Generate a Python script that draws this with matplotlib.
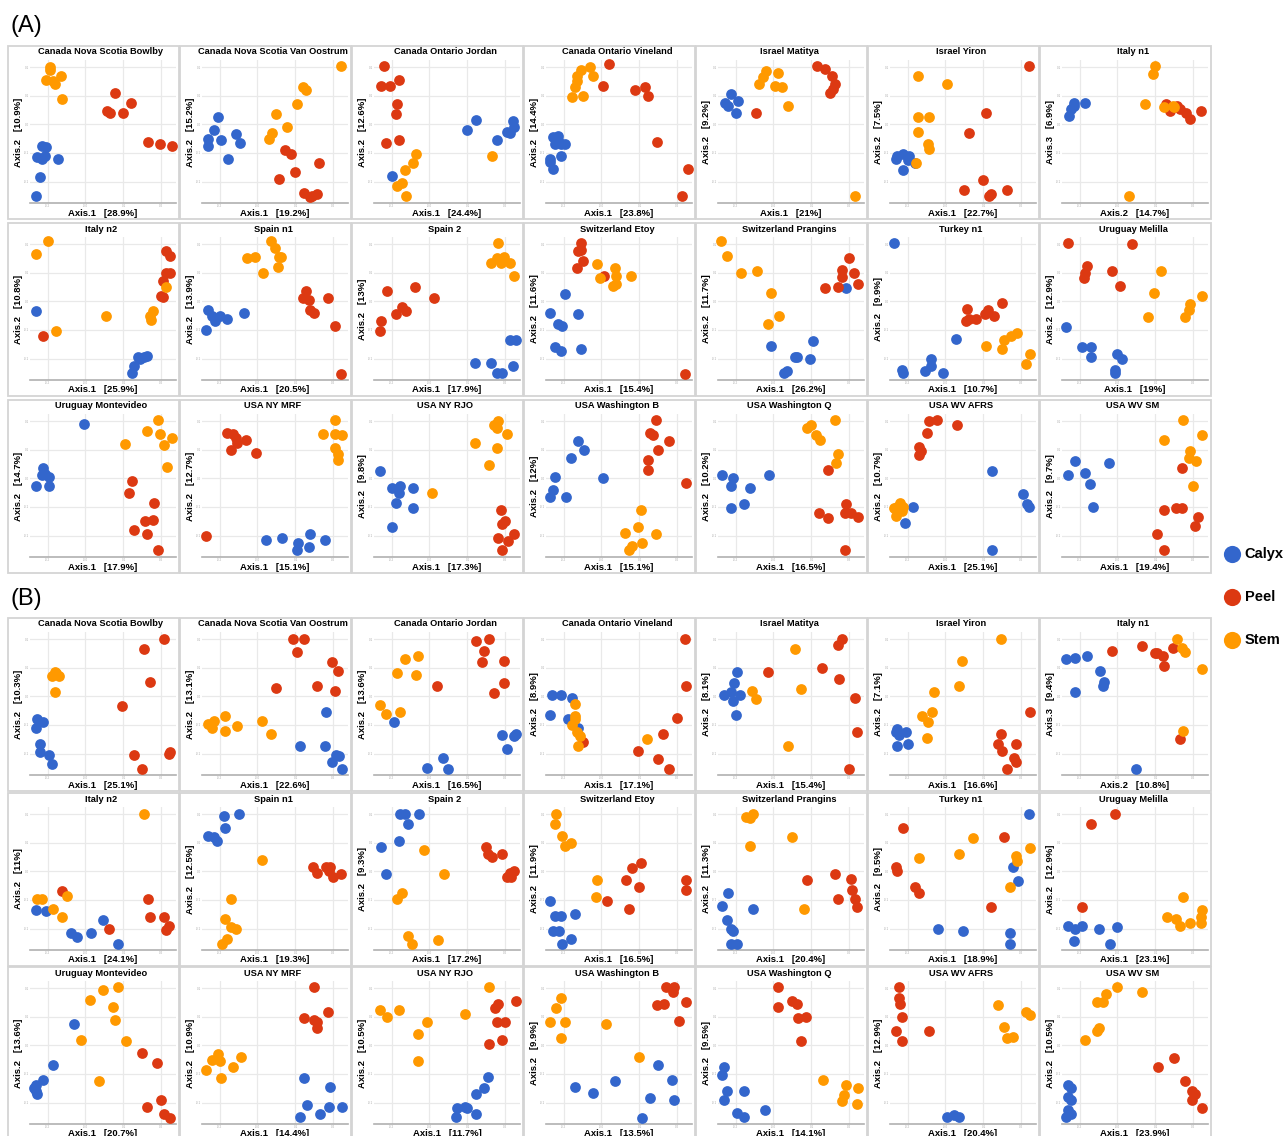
import matplotlib.pyplot as plt
from matplotlib.patches import Rectangle
from matplotlib.ticker import FuncFormatter

plt.rcParams['font.family'] = ['Liberation Sans', 'DejaVu Sans']

# panel titles, axis labels (section A = first 21, section B = last 21)
sites = ['Canada Nova Scotia Bowlby', 'Canada Nova Scotia Van Oostrum', 'Canada Ontario Jordan',
         'Canada Ontario Vineland', 'Israel Matitya', 'Israel Yiron', 'Italy n1',
         'Italy n2', 'Spain n1', 'Spain 2', 'Switzerland Etoy', 'Switzerland Prangins',
         'Turkey n1', 'Uruguay Melilla',
         'Uruguay Montevideo', 'USA NY MRF', 'USA NY RJO', 'USA Washington B',
         'USA Washington Q', 'USA WV AFRS', 'USA WV SM']
titles = sites + sites

x_pct = ['28.9', '19.2', '24.4', '23.8', '21', '22.7', '14.7',
         '25.9', '20.5', '17.9', '15.4', '26.2', '10.7', '19',
         '17.9', '15.1', '17.3', '15.1', '16.5', '25.1', '19.4',
         '25.1', '22.6', '16.5', '17.1', '15.4', '16.6', '10.8',
         '24.1', '19.3', '17.2', '16.5', '20.4', '18.9', '23.1',
         '20.7', '14.4', '11.7', '13.5', '14.1', '20.4', '23.9']
y_pct = ['10.9', '15.2', '12.6', '14.4', '9.2', '7.5', '6.9',
         '10.8', '13.9', '13', '11.6', '11.7', '9.9', '12.9',
         '14.7', '12.7', '9.8', '12', '10.2', '10.7', '9.7',
         '10.3', '13.1', '13.6', '8.9', '8.1', '7.1', '9.4',
         '11', '12.5', '9.3', '11.9', '11.3', '9.5', '12.9',
         '13.6', '10.9', '10.5', '9.9', '9.5', '12.9', '10.5']
x_axis = ['Axis.1'] * 42
y_axis = ['Axis.2'] * 42
x_axis[6] = x_axis[27] = 'Axis.2'
y_axis[6] = y_axis[27] = 'Axis.3'

# point positions, percent of each panel's plotting range
calyx = [
    [(8,40),(11,39),(5,32),(8,31),(10,33),(19,31),(7,18),(4,5)],
    [(11,60),(8,51),(4,45),(4,40),(13,44),(23,48),(26,42),(18,31)],
    [(70,58),(64,51),(84,44),(91,50),(93,49),(95,57),(96,53),(12,19)],
    [(5,46),(8,44),(6,41),(8,47),(10,41),(13,41),(10,33),(3,31),(5,24),(3,29)],
    [(9,76),(5,70),(7,68),(14,71),(12,63)],
    [(5,33),(9,34),(13,33),(17,28),(9,23),(4,31),(12,30)],
    [(5,61),(6,66),(8,70),(8,68),(16,70)],
    [(4,48),(80,17),(74,16),(71,10),(70,5),(75,15),(78,16)],
    [(4,49),(7,45),(9,41),(3,35),(17,43),(29,47),(12,45)],
    [(93,28),(97,28),(69,12),(80,12),(84,5),(88,5),(95,10)],
    [(13,60),(3,47),(22,46),(8,39),(11,38),(6,23),(10,20),(24,22)],
    [(88,64),(36,24),(65,27),(54,16),(63,15),(53,16),(45,5),(47,6)],
    [(3,96),(45,29),(28,15),(28,10),(8,7),(9,5),(24,6),(36,5)],
    [(3,37),(14,23),(20,23),(20,16),(38,18),(41,15),(36,7),(36,5)],
    [(37,93),(9,62),(10,58),(13,56),(4,50),(13,50),(8,57)],
    [(44,12),(55,13),(66,10),(65,5),(73,7),(74,16),(84,12)],
    [(4,60),(12,48),(18,50),(17,45),(27,48),(15,38),(27,34),(12,21)],
    [(22,81),(26,75),(17,69),(6,56),(39,55),(5,47),(3,42),(14,42)],
    [(3,57),(10,55),(9,50),(35,57),(22,48),(18,37),(9,34)],
    [(70,60),(91,44),(94,37),(95,35),(16,35),(10,24),(70,5)],
    [(9,67),(32,66),(4,57),(16,59),(19,51),(21,35)],
    [(4,33),(5,39),(9,37),(7,22),(7,16),(13,14),(15,8)],
    [(85,44),(67,20),(84,20),(92,14),(89,9),(96,4),(94,13)],
    [(14,37),(36,5),(47,12),(51,4),(88,28),(96,27),(91,18),(97,29)],
    [(4,56),(10,56),(18,54),(3,42),(15,39),(22,33)],
    [(13,72),(11,64),(4,56),(9,58),(15,56),(10,52),(12,42)],
    [(5,32),(11,30),(6,28),(5,20),(12,22),(4,30)],
    [(3,81),(9,82),(17,83),(26,73),(28,62),(29,65),(9,58),(51,4)],
    [(4,28),(11,27),(28,12),(32,9),(42,12),(50,21),(60,4)],
    [(15,94),(25,95),(16,85),(4,80),(8,79),(10,76)],
    [(18,95),(21,95),(31,95),(23,88),(17,76),(5,72),(8,53)],
    [(3,34),(6,24),(10,24),(20,25),(5,13),(9,13),(17,8),(11,4)],
    [(7,40),(3,31),(24,29),(6,21),(9,15),(10,13),(9,4),(13,4)],
    [(95,95),(84,58),(88,48),(33,15),(50,13),(82,12),(82,4)],
    [(4,17),(9,15),(14,17),(25,15),(38,16),(8,6),(33,4)],
    [(30,70),(16,41),(9,31),(3,25),(4,23),(5,21),(4,27)],
    [(70,32),(88,26),(72,13),(87,12),(96,12),(81,7),(67,5)],
    [(78,33),(75,25),(70,21),(62,12),(57,11),(56,5),(70,7),(64,11)],
    [(20,26),(32,22),(47,30),(77,41),(86,31),(71,18),(88,17),(66,4)],
    [(4,40),(3,34),(6,23),(18,23),(4,17),(13,8),(18,5),(32,10)],
    [(39,5),(47,5),(44,6)],
    [(4,27),(6,25),(4,19),(6,17),(4,10),(6,7),(3,5)],
]
peel = [
    [(58,77),(53,64),(55,63),(64,63),(69,70),(81,43),(89,41),(97,40)],
    [(57,37),(61,34),(80,28),(64,22),(53,17),(70,7),(75,5),(79,6),(74,4)],
    [(7,96),(5,82),(11,82),(17,86),(16,69),(15,62),(8,42),(17,44)],
    [(43,97),(39,82),(61,79),(68,81),(70,75),(76,43),(97,24),(93,5)],
    [(26,63),(68,96),(73,94),(78,89),(80,83),(79,80),(77,77)],
    [(95,96),(66,63),(54,49),(64,16),(51,9),(69,6),(80,9),(68,5)],
    [(71,69),(74,64),(81,66),(85,63),(88,59),(95,64),(79,68)],
    [(93,90),(96,87),(93,75),(96,75),(91,69),(90,59),(91,58),(9,31)],
    [(71,62),(69,57),(73,56),(86,57),(74,49),(77,47),(91,38),(95,4)],
    [(9,62),(28,65),(41,57),(19,51),(22,48),(15,46),(5,41),(4,34)],
    [(24,96),(24,91),(22,90),(25,83),(21,78),(40,73),(95,4)],
    [(90,85),(85,77),(93,75),(85,72),(96,67),(82,65),(73,64)],
    [(53,50),(77,54),(67,49),(71,45),(65,46),(59,43),(52,41),(54,43)],
    [(4,96),(48,95),(17,80),(16,75),(15,71),(34,76),(40,66)],
    [(70,53),(68,45),(85,38),(79,25),(84,26),(71,19),(80,16),(88,5)],
    [(17,87),(21,86),(23,83),(30,82),(20,75),(37,73),(24,80),(3,15)],
    [(87,33),(90,25),(88,23),(96,16),(85,13),(92,11),(88,5)],
    [(75,96),(71,87),(73,85),(84,81),(77,75),(70,68),(70,61),(96,52)],
    [(75,61),(88,37),(87,31),(69,31),(75,27),(96,28),(91,31),(87,5)],
    [(27,95),(32,96),(46,92),(25,87),(20,77),(20,71),(21,74)],
    [(82,62),(70,33),(78,34),(82,34),(93,28),(91,22),(65,16),(70,5)],
    [(92,95),(78,88),(82,65),(63,48),(71,14),(77,4),(95,15),(96,16)],
    [(62,95),(70,95),(65,86),(89,79),(93,73),(91,59),(79,62),(51,61)],
    [(70,94),(79,95),(75,87),(74,79),(89,80),(89,64),(82,57),(43,62)],
    [(25,23),(95,95),(96,62),(90,40),(80,29),(63,17),(77,11),(84,4)],
    [(34,72),(85,95),(82,91),(71,75),(83,67),(94,54),(95,30),(90,4)],
    [(96,44),(76,29),(74,22),(86,22),(77,17),(85,12),(86,9),(80,4)],
    [(34,87),(55,90),(64,85),(69,83),(70,76),(76,89),(65,85),(81,25)],
    [(22,41),(81,36),(82,23),(92,23),(95,17),(93,14),(54,15)],
    [(76,58),(85,58),(88,58),(79,54),(95,53),(90,51),(87,55)],
    [(77,72),(78,67),(81,65),(88,67),(93,54),(96,55),(91,51),(94,51)],
    [(65,61),(59,57),(55,49),(64,44),(42,34),(57,29),(96,49),(96,42)],
    [(80,53),(61,49),(91,50),(92,42),(94,36),(82,36),(95,30)],
    [(9,85),(78,79),(4,58),(5,55),(17,44),(20,40),(69,30)],
    [(36,95),(20,88),(14,30)],
    [(77,50),(87,43),(90,17),(80,12),(92,7),(96,4)],
    [(77,96),(70,74),(77,73),(79,71),(79,67),(86,78)],
    [(97,86),(85,84),(83,81),(84,71),(90,71),(79,56),(88,59)],
    [(82,96),(88,96),(87,92),(81,84),(76,83),(96,85),(91,72)],
    [(41,96),(41,82),(51,86),(54,84),(55,74),(60,75),(57,58)],
    [(6,96),(6,88),(7,84),(8,75),(4,65),(8,58),(27,65)],
    [(77,46),(66,40),(84,30),(89,23),(91,21),(89,17),(96,11)],
]
stem = [
    [(14,95),(14,93),(21,89),(11,86),(16,85),(17,83),(22,73)],
    [(95,96),(69,81),(71,79),(65,69),(51,62),(58,53),(48,49),(46,45)],
    [(29,34),(27,28),(21,23),(19,14),(16,12),(22,5),(81,33)],
    [(30,95),(24,93),(21,89),(32,89),(21,85),(20,81),(18,74),(25,75)],
    [(33,92),(31,88),(28,83),(41,91),(39,82),(44,81),(48,68),(94,5)],
    [(19,89),(39,83),(19,60),(27,60),(19,50),(26,41),(27,38),(18,28)],
    [(64,96),(62,90),(57,69),(70,67),(76,68),(77,67),(46,5)],
    [(12,97),(4,88),(18,34),(52,45),(84,48),(82,45),(83,42),(93,65)],
    [(47,97),(36,86),(31,85),(50,92),(53,86),(54,86),(52,79),(42,75)],
    [(85,96),(80,82),(84,85),(89,86),(93,82),(96,73),(87,82)],
    [(35,81),(47,78),(37,71),(48,73),(46,66),(58,73),(48,67)],
    [(2,97),(6,87),(16,75),(27,76),(36,61),(42,45),(34,39)],
    [(87,33),(83,31),(78,28),(66,24),(77,22),(96,18),(93,11)],
    [(68,76),(63,61),(96,59),(88,53),(87,49),(84,44),(59,44)],
    [(88,96),(80,88),(89,86),(97,83),(92,78),(65,79),(94,63)],
    [(91,96),(83,86),(91,86),(96,85),(91,76),(93,72),(93,68)],
    [(82,92),(85,95),(84,90),(91,86),(69,80),(84,76),(79,64),(40,45)],
    [(65,33),(63,21),(75,16),(54,17),(66,10),(59,8),(57,5)],
    [(80,96),(61,90),(64,92),(67,85),(70,82),(82,72),(81,66)],
    [(7,38),(5,35),(8,32),(4,29),(9,35),(3,34)],
    [(83,96),(96,85),(70,82),(88,74),(92,67),(87,69),(90,50)],
    [(17,72),(15,69),(20,69),(17,58),(18,71)],
    [(4,36),(8,38),(7,33),(16,41),(16,31),(24,34),(41,38),(47,29)],
    [(21,81),(30,83),(16,71),(29,70),(4,49),(8,43),(18,44)],
    [(20,50),(20,41),(18,35),(21,30),(23,27),(22,20),(20,39),(69,25)],
    [(53,88),(23,59),(26,53),(57,60),(48,20)],
    [(76,95),(49,80),(47,62),(30,58),(29,44),(22,41),(26,37),(25,26)],
    [(79,95),(82,89),(84,86),(96,74),(83,31)],
    [(78,95),(5,36),(8,36),(25,38),(16,29),(22,23)],
    [(41,63),(20,36),(16,22),(20,16),(23,15),(17,8),(14,4)],
    [(34,70),(48,53),(19,40),(16,36),(23,10),(26,4),(44,7)],
    [(7,95),(6,88),(11,80),(17,75),(13,73),(35,49),(34,37)],
    [(19,93),(24,95),(22,92),(51,79),(22,73),(59,29)],
    [(57,78),(47,67),(20,64),(86,66),(87,62),(96,71),(82,44)],
    [(83,37),(72,23),(78,22),(81,17),(88,19),(96,28),(95,23),(95,19)],
    [(60,96),(50,94),(41,87),(57,82),(58,73),(35,59),(66,58),(47,30)],
    [(3,38),(7,45),(11,49),(12,44),(21,40),(27,47),(13,32)],
    [(79,96),(4,80),(9,75),(17,80),(36,71),(62,77),(30,63),(30,44)],
    [(10,88),(7,81),(3,71),(13,71),(41,70),(10,60),(64,47)],
    [(72,31),(88,27),(96,25),(86,20),(85,16),(95,14)],
    [(74,83),(93,78),(96,76),(78,68),(80,60),(84,61)],
    [(38,96),(55,92),(30,91),(24,85),(28,85),(25,67),(24,65),(16,59)],
]

groups = ['Calyx', 'Peel', 'Stem']
colors = ['#3366CC', '#DC3912', '#FF9900']

W, H = 1285, 1136
fig = plt.figure(figsize=(W / 100, H / 100), dpi=100)

col_left = [8 + 172 * c for c in range(7)]
row_top = [46, 223, 400, 618, 793, 967]
pw, ph = 171, 173

fmt_x = FuncFormatter(lambda v, p: f'{(v - 50) / 250:.1f}')
fmt_y = FuncFormatter(lambda v, p: f'{(v - 50) / 300:.1f}')

handles = []
for i in range(42):
    r, c = divmod(i, 7)
    L, T = col_left[c], row_top[r]
    fig.patches.append(Rectangle((L / W, 1 - (T + ph) / H), pw / W, ph / H,
                                 transform=fig.transFigure, fill=False,
                                 edgecolor='#d4d4d4', lw=1.3))
    ax = fig.add_axes([(L + 22) / W, 1 - (T + 157) / H, 146 / W, 143 / H])
    for pts, col, g in zip([calyx[i], peel[i], stem[i]], colors, groups):
        xs = [p[0] for p in pts]
        ys = [p[1] for p in pts]
        sc = ax.scatter(xs, ys, s=60, color=col, lw=0, clip_on=False, label=g, zorder=3)
        if i == 0:
            handles.append(sc)
    ax.set_xlim(0, 100)
    ax.set_ylim(0, 100)
    ax.set_xticks([12, 38, 64, 90])
    ax.set_yticks([15, 35, 55, 75, 95])
    ax.xaxis.set_major_formatter(fmt_x)
    ax.yaxis.set_major_formatter(fmt_y)
    ax.tick_params(length=0, labelsize=2.2, labelcolor='#aaaaaa', pad=1)
    ax.grid(True, color='#e9e9e9', lw=0.9)
    ax.set_axisbelow(True)
    for s in ['top', 'right', 'left']:
        ax.spines[s].set_visible(False)
    ax.spines['bottom'].set_color('#b0b0b0')
    ax.spines['bottom'].set_linewidth(1.2)
    fig.text((L + 93) / W, 1 - (T + 6) / H, titles[i], ha='center', va='center',
             fontsize=6.7, weight='bold')
    fig.text((L + 95) / W, 1 - (T + 167) / H, f'{x_axis[i]}   [{x_pct[i]}%]',
             ha='center', va='center', fontsize=6.8, weight='bold')
    fig.text((L + 10.5) / W, 1 - (T + 86) / H, f'{y_axis[i]}   [{y_pct[i]}%]',
             ha='center', va='center', rotation=90, fontsize=6.8, weight='bold')

fig.text(10 / W, 1 - 26 / H, '(A)', fontsize=17, va='center')
fig.text(10 / W, 1 - 599 / H, '(B)', fontsize=17, va='center')

fig.legend(handles=handles, labels=groups, loc='center left',
           bbox_to_anchor=(1214 / W, 1 - 597 / H), frameon=False,
           prop={'weight': 'bold', 'size': 10.5}, markerscale=1.6,
           labelspacing=2.0, handlelength=1.6, handletextpad=0.1,
           borderaxespad=0)

fig.savefig('out.png', dpi=100)
